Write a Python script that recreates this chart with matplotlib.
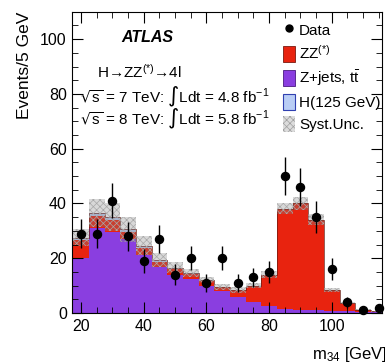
import numpy as np
import matplotlib
matplotlib.use("Agg")
import matplotlib.pyplot as plt
from matplotlib.patches import Patch
from matplotlib.lines import Line2D

plt.rcParams["font.family"] = ["Liberation Sans", "DejaVu Sans"]
plt.rcParams["mathtext.default"] = "regular"
plt.rcParams["hatch.linewidth"] = 0.5

# m34 bin centres (5 GeV bins)
m34 = [20, 25, 30, 35, 40, 45, 50, 55, 60, 65, 70, 75, 80, 85, 90, 95, 100, 105, 110, 115]
# observed events per bin
data = [29, 29, 41, 28, 19, 27, 14, 20, 11, 20, 11, 13, 15, 50, 46, 35, 16, 4, 1, 2]
# expected backgrounds and signal per bin
zjets = [20.0, 31.0, 29.5, 27.0, 21.0, 16.7, 13.8, 12.5, 10.0, 8.0, 6.0, 4.0, 2.5, 1.5, 1.2, 1.0, 0.8, 0.6, 0.5, 0.4]
zz = [6.7, 4.3, 4.3, 2.5, 2.7, 2.0, 2.3, 1.7, 1.8, 1.4, 2.3, 6.0, 11.5, 36.5, 38.8, 33.0, 7.6, 3.0, 0.7, 0.2]
higgs = [0.8, 1.2, 1.2, 1.0, 0.8, 0.6, 0.4, 0.3, 0.2, 0.1, 0.1, 0, 0, 0, 0, 0, 0, 0, 0, 0]
# systematic uncertainty on the total expectation
syst = [3.0, 5.0, 5.0, 4.5, 3.5, 2.5, 2.0, 1.5, 1.2, 1.0, 1.0, 1.0, 1.2, 2.0, 2.5, 2.0, 0.8, 0.4, 0.2, 0.1]

c_red = "#e8230f"
c_purple = "#8a3ee0"
c_higgs = "#b9cdf5"

centres = np.array(m34, dtype=float)
width = 5.0
edges = np.append(centres - width / 2, centres[-1] + width / 2)
zj = np.array(zjets)
z4 = zj + np.array(zz)
tot = z4 + np.array(higgs)
sy = np.array(syst)
obs = np.array(data, dtype=float)

fig = plt.figure(figsize=(3.85, 3.63), dpi=100)
ax = fig.add_axes([0.188, 0.1377, 0.804, 0.830])

ax.stairs(zj, edges, baseline=0, fill=True, color=c_purple, lw=0)
ax.stairs(z4, edges, baseline=zj, fill=True, color=c_red, lw=0)
ax.stairs(tot, edges, baseline=z4, fill=True, color=c_higgs, lw=0)
ax.stairs(tot, edges, baseline=None, color="#6a1a10", lw=0.5)
ax.stairs(tot + sy, edges, baseline=tot - sy, fill=True, facecolor=(0.5, 0.5, 0.5, 0.3),
          edgecolor="#a8a8a8", hatch="xxxxx", lw=0)

ax.errorbar(centres, obs, yerr=np.sqrt(obs), fmt="o", color="black", ms=5.8,
            elinewidth=1.0, capsize=0, clip_on=False, zorder=5)

ax.set_xlim(17.2, 116)
ax.set_ylim(0, 110)
ax.set_xticks([20, 40, 60, 80, 100])
ax.set_xticks(np.arange(20, 116, 5), minor=True)
ax.set_yticks([0, 20, 40, 60, 80, 100])
ax.set_yticks(np.arange(0, 111, 5), minor=True)
ax.tick_params(which="both", direction="in", top=True, right=True, labelsize=11.5, pad=4)
ax.tick_params(which="major", length=8)
ax.tick_params(which="minor", length=4)

ax.set_ylabel("Events/5 GeV", fontsize=12.5, loc="top", labelpad=6)
fig.text(312 / 385, 1 - 355 / 363, "m$_{34}$ [GeV]", fontsize=12, ha="left", va="center")

ax.text(0.241, 0.916, "ATLAS", transform=ax.transAxes, fontsize=11.5, weight="bold",
        style="italic", ha="center", va="center")
ax.text(0.079, 0.80, "H\u2192ZZ$^{(*)}$\u21924l", transform=ax.transAxes,
        fontsize=11, ha="left", va="center")
ax.text(0.024, 0.717, r"$\sqrt{s}$ = 7 TeV: $\int$Ldt = 4.8 fb$^{-1}$", transform=ax.transAxes,
        fontsize=11, ha="left", va="center")
ax.text(0.024, 0.644, r"$\sqrt{s}$ = 8 TeV: $\int$Ldt = 5.8 fb$^{-1}$", transform=ax.transAxes,
        fontsize=11, ha="left", va="center")

handles = [
    Line2D([], [], marker="o", color="black", ls="none", ms=5),
    Patch(facecolor=c_red, edgecolor="#7a1a10", lw=0.6),
    Patch(facecolor=c_purple, edgecolor="#4a1a80", lw=0.6),
    Patch(facecolor=c_higgs, edgecolor="#3040b0", lw=0.8),
    Patch(facecolor="#dcdcdc", edgecolor="#a0a0a0", hatch="xxxxx", lw=0),
]
labels = ["Data", "ZZ$^{(*)}$", r"Z+jets, $t\bar{t}$", "H(125 GeV)", "Syst.Unc."]
ax.legend(handles, labels, loc="upper left", bbox_to_anchor=(0.68, 0.966), frameon=False,
          fontsize=11, handlelength=0.8, handleheight=1.2, labelspacing=0.4,
          handletextpad=0.25, borderpad=0, borderaxespad=0)

fig.savefig("out.png", dpi=100)
